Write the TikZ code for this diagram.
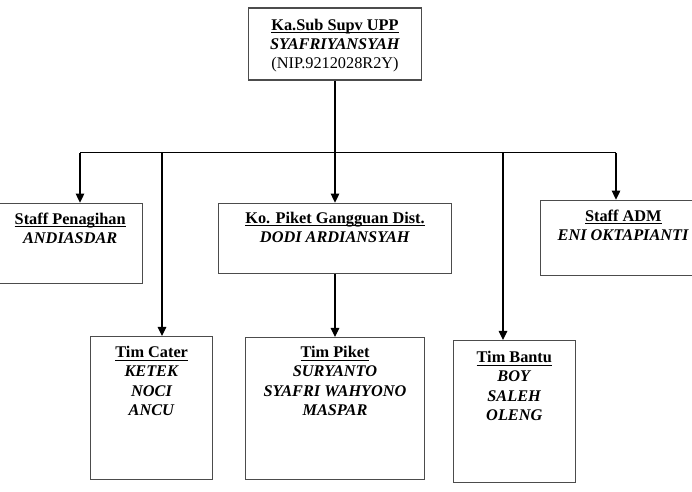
\documentclass[tikz,border=0pt]{standalone}
\usepackage{fontspec}
\setmainfont{Liberation Serif}
\usepackage{tikz}
\usetikzlibrary{arrows.meta,positioning}

\definecolor{boxline}{gray}{0.3}
\newcommand{\judul}[1]{\setbox0\hbox{\textbf{#1}}\rlap{\rule[-3pt]{\wd0}{1pt}}\box0}
\newcommand{\nama}[1]{\textbf{\textit{#1}}}
\newcommand{\isi}[1]{\begin{tabular}[t]{@{}c@{}}#1\end{tabular}}

\begin{document}
\begin{tikzpicture}[
    font=\fontsize{16.3pt}{19.3pt}\selectfont,
    box/.style={rectangle, draw=boxline, line width=1.3pt, inner xsep=2pt, inner ysep=0pt, text height=21pt},
    line/.style={line width=1.1pt},
    arrow/.style={-{Triangle[length=9pt,width=8.5pt]}, line width=1.1pt}
]
\useasboundingbox (0,0) rectangle (692pt,-491pt);
\node[box, minimum width=173pt, text height=22pt, text depth=50pt] (sub) at (335pt,-44pt)
    {\isi{\judul{Ka.Sub Supv UPP}\\\nama{SYAFRIYANSYAH}\\(NIP.9212028R2Y)}};
\node[box, below=122pt of sub, minimum width=233pt, text height=20pt, text depth=50pt] (piketk)
    {\isi{\judul{Ko. Piket Gangguan Dist.}\\\nama{DODI ARDIANSYAH}}};
\node[box, below left=122pt and 104.5pt of sub, minimum width=145pt, text depth=59pt] (pen)
    {\isi{\judul{Staff Penagihan}\\\nama{ANDIASDAR}}};
\node[box, below right=119pt and 117.5pt of sub, minimum width=166pt, text depth=54pt] (adm)
    {\isi{\judul{Staff ADM}\\\nama{ENI OKTAPIANTI}}};
\node[box, below=52pt of pen, xshift=81.5pt, minimum width=122pt, text depth=122pt] (cater)
    {\isi{\judul{Tim Cater}\\\nama{KETEK}\\\nama{NOCI}\\\nama{ANCU}}};
\node[box, below=63pt of piketk, minimum width=179pt, text height=20pt, text depth=122pt] (tpiket)
    {\isi{\judul{Tim Piket}\\\nama{SURYANTO}\\\nama{SYAFRI WAHYONO}\\\nama{MASPAR}}};
\node[box, below=64pt of adm, xshift=-109pt, minimum width=122pt, text height=22pt, text depth=120pt] (bantu)
    {\isi{\judul{Tim Bantu}\\\nama{BOY}\\\nama{SALEH}\\\nama{OLENG}}};

% garis pembagi
\coordinate[below=72pt of sub] (bus);
\coordinate[left=255pt of bus] (busPen);
\coordinate[left=173pt of bus] (busCater);
\coordinate[right=168pt of bus] (busBantu);
\coordinate[right=281pt of bus] (busAdm);

\draw[line] (sub) -- (bus);
\draw[line] (busPen) -- (busAdm);
\draw[arrow] (busPen) -- (busPen |- pen.north);
\draw[arrow] (busCater) -- (busCater |- cater.north);
\draw[arrow] (bus) -- (piketk);
\draw[arrow] (busBantu) -- (busBantu |- bantu.north);
\draw[arrow] (busAdm) -- (busAdm |- adm.north);
\draw[arrow] (piketk) -- (tpiket);
\end{tikzpicture}
\end{document}
